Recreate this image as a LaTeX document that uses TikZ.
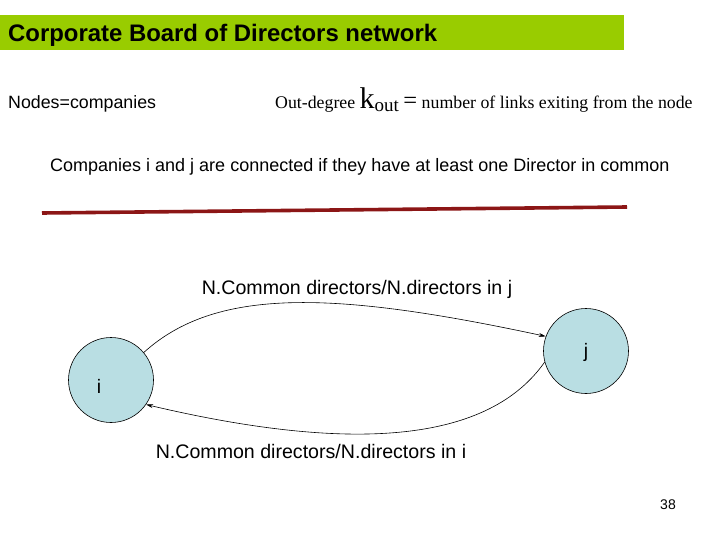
\documentclass[tikz,border=0pt]{standalone}
\usepackage{fontspec}
\setmainfont{Liberation Serif}
\setsansfont{Liberation Sans}
\usetikzlibrary{arrows.meta}
\definecolor{titlegreen}{RGB}{153,204,0}
\definecolor{linered}{RGB}{140,22,22}
\definecolor{nodeblue}{RGB}{185,222,227}
\tikzset{
  sans/.style={font=\sffamily, inner sep=0pt},
  vertex/.style={circle, draw=black, line width=0.6pt, fill=nodeblue, minimum size=85pt, inner sep=0pt},
  link/.style={line width=0.6pt, -{Stealth[length=7pt,width=4pt]}}
}
\begin{document}
\begin{tikzpicture}[x=1pt,y=-1pt]
\useasboundingbox (0,0) rectangle (720,540);
\fill[white] (0,0) rectangle (720,540);
% title bar
\fill[titlegreen] (0,15) rectangle (624,50);
\node[sans, anchor=base west, font=\sffamily\bfseries\fontsize{23.9}{26}\selectfont] (title) at (8,42) {Corporate Board of Directors network};
% header texts
\node[sans, anchor=base west, font=\sffamily\fontsize{17.8}{20}\selectfont] (nodes) at (8,109) {Nodes=companies};
\node[anchor=base west, inner sep=0pt, font=\fontsize{17.8}{20}\selectfont] (outdeg) at (275,109) {Out-degree {\fontsize{30}{32}\selectfont k}\raisebox{-3pt}{\fontsize{19}{21}\selectfont out} {\fontsize{24.5}{26}\selectfont =} number of links exiting from the node};
\node[sans, anchor=base west, font=\sffamily\fontsize{18}{21}\selectfont] (conn) at (50,172) {Companies i and j are connected if they have at least one Director in common};
% red rule
\coordinate (rl) at (42,213);
\coordinate (rr) at (627,207);
\draw[linered, line width=3.6pt] (rl) -- (rr);
% nodes
\node[vertex] (i) at (111,380) {};
\node[vertex] (j) at (586,351) {};
\node[sans, anchor=base, font=\sffamily\fontsize{19.5}{22}\selectfont] (li) at (99,393) {i};
\node[sans, anchor=base, font=\sffamily\fontsize{19.5}{22}\selectfont] (lj) at (586,357) {j};
% links
\draw[link] (i.40) .. controls (215,288) and (330,290) .. (j.160);
\draw[link] (j.195) .. controls (490,440) and (360,455) .. (i.-35);
% link labels
\node[sans, anchor=base, font=\sffamily\fontsize{19.6}{22}\selectfont] (lab1) at (357,294) {N.Common directors/N.directors in j};
\node[sans, anchor=base, font=\sffamily\fontsize{19.6}{22}\selectfont] (lab2) at (311,458) {N.Common directors/N.directors in i};
% page number
\node[sans, anchor=base, font=\sffamily\fontsize{14}{16}\selectfont] (page) at (668,509) {38};
\end{tikzpicture}
\end{document}
